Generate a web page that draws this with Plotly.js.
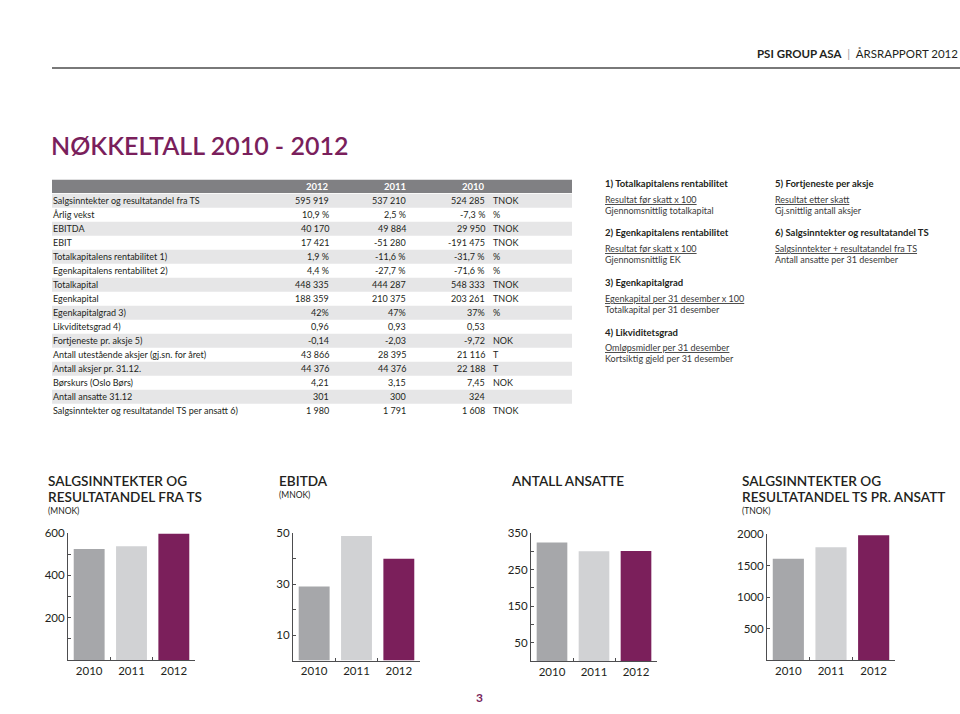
<!DOCTYPE html>
<html><head><meta charset="utf-8">
<script src="https://cdn.plot.ly/plotly-3.0.1.min.js"></script>
<style>html,body{margin:0;padding:0;background:#fff;}#chart{width:960px;height:714px;}</style>
</head><body><div id="chart"></div>
<script>
// ---------- DATA ----------
const years = ['2010', '2011', '2012'];
const salesMNOK = [525, 537.5, 596];
const ebitdaMNOK = [29.0, 48.8, 39.9];
const employees = [324, 300, 301];
const salesPerEmployeeTNOK = [1608, 1791, 1980];

// y-axis ticks (value, label; empty label = unlabeled minor tick)
const tickVals1 = [100, 200, 300, 400, 500, 600];
const tickText1 = ['', '200', '', '400', '', '600'];
const tickVals2 = [10, 20, 30, 40, 50];
const tickText2 = ['10', '', '30', '', '50'];
const tickVals3 = [50, 100, 150, 200, 250, 300, 350];
const tickText3 = ['50', '', '150', '', '250', '', '350'];
const tickVals4 = [500, 1000, 1500, 2000];
const tickText4 = ['500', '1000', '1500', '2000'];

const tableYears = ['2012', '2011', '2010'];
const rowLabels = [
  'Salgsinntekter og resultatandel fra TS', 'Årlig vekst', 'EBITDA', 'EBIT',
  'Totalkapitalens rentabilitet 1)', 'Egenkapitalens rentabilitet 2)', 'Totalkapital', 'Egenkapital',
  'Egenkapitalgrad 3)', 'Likviditetsgrad 4)', 'Fortjeneste pr. aksje 5)',
  'Antall utestående aksjer (gj.sn. for året)', 'Antall aksjer pr. 31.12.', 'Børskurs (Oslo Børs)',
  'Antall ansatte 31.12', 'Salgsinntekter og resultatandel TS per ansatt 6)'
];
const val2012 = ['595 919', '10,9 %', '40 170', '17 421', '1,9 %', '4,4 %', '448 335', '188 359', '42%', '0,96', '-0,14', '43 866', '44 376', '4,21', '301', '1 980'];
const val2011 = ['537 210', '2,5 %', '49 884', '-51 280', '-11,6 %', '-27,7 %', '444 287', '210 375', '47%', '0,93', '-2,03', '28 395', '44 376', '3,15', '300', '1 791'];
const val2010 = ['524 285', '-7,3 %', '29 950', '-191 475', '-31,7 %', '-71,6 %', '548 333', '203 261', '37%', '0,53', '-9,72', '21 116', '22 188', '7,45', '324', '1 608'];
const units = ['TNOK', '%', 'TNOK', 'TNOK', '%', '%', 'TNOK', 'TNOK', '%', '', 'NOK', 'T', 'T', 'NOK', '', 'TNOK'];

const noteTitles = ['1) Totalkapitalens rentabilitet', '2) Egenkapitalens rentabilitet', '3) Egenkapitalgrad', '4) Likviditetsgrad', '5) Fortjeneste per aksje', '6) Salgsinntekter og resultatandel TS'];
const noteNumerators = ['Resultat før skatt x 100', 'Resultat før skatt x 100', 'Egenkapital per 31 desember x 100', 'Omløpsmidler per 31 desember', 'Resultat etter skatt', 'Salgsinntekter + resultatandel fra TS'];
const noteDenominators = ['Gjennomsnittlig totalkapital', 'Gjennomsnittlig EK', 'Totalkapital per 31 desember', 'Kortsiktig gjeld per 31 desember', 'Gj.snittlig antall aksjer', 'Antall ansatte per 31 desember'];

const chartTitles = [['SALGSINNTEKTER OG', 'RESULTATANDEL FRA TS'], ['EBITDA'], ['ANTALL ANSATTE'], ['SALGSINNTEKTER OG', 'RESULTATANDEL TS PR. ANSATT']];
const chartUnits = ['(MNOK)', '(MNOK)', '', '(TNOK)'];

const pageTitle = 'NØKKELTALL 2010 - 2012';
const headerCompany = 'PSI GROUP ASA';
const headerReport = 'ÅRSRAPPORT 2012';
const pageNumber = '3';

// ---------- STYLE ----------
const W = 960, H = 714;
const FONT = 'Lato, "Open Sans", sans-serif';
const PURPLE = '#7a1f5c';
const TXT = '#231f20';
const AXIS = '#4d4d4f';
const barColors = ['#a6a7aa', '#d1d2d4', '#7b1f5b'];
const px = x => x / W;
const py = y => 1 - y / H;

const annotations = [];
const shapes = [];
function ann(text, x, y, opts) {
  annotations.push(Object.assign({
    text: text, x: px(x), y: py(y), xref: 'paper', yref: 'paper',
    showarrow: false, xanchor: 'left', yanchor: 'middle', borderpad: 0,
    font: {family: FONT, size: 9, color: TXT}
  }, opts || {}));
}

// header
ann('<b>' + headerCompany + '</b>\u00a0\u00a0<span style="color:#a0a0a0">|</span>\u00a0\u00a0' + headerReport, 959, 54,
  {xanchor: 'right', font: {family: FONT, size: 11.5, color: TXT}});
shapes.push({type: 'line', xref: 'paper', yref: 'paper', x0: px(52), x1: px(960), y0: py(68), y1: py(68), line: {color: '#4d4d4d', width: 1.6}});

// page title
ann(pageTitle, 50, 145, {font: {family: FONT, size: 25, color: PURPLE, weight: 600}});

// table
const rowTop0 = 193.7, rowH = 14;
shapes.push({type: 'rect', xref: 'paper', yref: 'paper', layer: 'below', x0: px(52), x1: px(572), y0: py(rowTop0 - rowH), y1: py(rowTop0 - 0.8), fillcolor: '#808083', line: {width: 0}});
const colRight = [330, 407, 486];
tableYears.forEach((yr, i) => ann('<b>' + yr + '</b>', colRight[i], rowTop0 - rowH / 2, {xanchor: 'right', font: {family: FONT, size: 9.5, color: '#ffffff'}}));
rowLabels.forEach((lab, k) => {
  const top = rowTop0 + k * rowH;
  if (k % 2 === 0) {
    shapes.push({type: 'rect', xref: 'paper', yref: 'paper', layer: 'below', x0: px(52), x1: px(572), y0: py(top + rowH), y1: py(top), fillcolor: '#e6e6e7', line: {width: 0}});
  }
  const cy = top + rowH / 2;
  ann(lab, 52, cy);
  ann(val2012[k], colRight[0], cy, {xanchor: 'right'});
  ann(val2011[k], colRight[1], cy, {xanchor: 'right'});
  ann(val2010[k], colRight[2], cy, {xanchor: 'right'});
  if (units[k]) ann(units[k], 492, cy);
});

// notes
const noteX = [604, 604, 604, 604, 774, 774];
const noteY = [184, 233, 283, 332, 184, 233];
noteTitles.forEach((t, i) => {
  ann('<b>' + t + '</b>', noteX[i], noteY[i], {font: {family: FONT, size: 9.5, color: TXT}});
  ann('<u>' + noteNumerators[i] + '</u>', noteX[i], noteY[i] + 15, {font: {family: FONT, size: 9, color: '#3a3a3a'}});
  ann(noteDenominators[i], noteX[i], noteY[i] + 26.5, {font: {family: FONT, size: 9, color: '#3a3a3a'}});
});

// chart titles
const titleX = [47, 278, 510, 741];
chartTitles.forEach((lines, i) => {
  lines.forEach((ln, j) => ann(ln, titleX[i], 480.5 + j * 16.5, {font: {family: FONT, size: 13.6, color: TXT, weight: 600}}));
  if (chartUnits[i]) ann(chartUnits[i], titleX[i], lines.length > 1 ? 511 : 494.5, {font: {family: FONT, size: 8.5, color: TXT}});
});

// page number
ann('<b>' + pageNumber + '</b>', 479, 697, {xanchor: 'center', font: {family: FONT, size: 12, color: PURPLE}});

// ---------- CHARTS ----------
const series = [salesMNOK, ebitdaMNOK, employees, salesPerEmployeeTNOK];
const tickVals = [tickVals1, tickVals2, tickVals3, tickVals4];
const tickText = [tickText1, tickText2, tickText3, tickText4];
const xDom = [[68, 195], [293, 420], [531, 657], [767, 895]];
const yDom = [[533, 660], [533, 660.5], [533, 661], [534, 660]];
const yRange = [[0, 600], [0, 50], [0, 350], [0, 2000]];

const traces = [];
const layout = {
  width: W, height: H, margin: {l: 0, r: 0, t: 0, b: 0},
  paper_bgcolor: '#ffffff', plot_bgcolor: 'rgba(0,0,0,0)',
  showlegend: false, bargap: 0.27,
  font: {family: FONT, color: TXT},
  annotations: annotations, shapes: shapes
};
series.forEach((vals, i) => {
  const n = i === 0 ? '' : String(i + 1);
  traces.push({type: 'bar', x: years, y: vals, xaxis: 'x' + n, yaxis: 'y' + n,
    marker: {color: barColors, line: {width: 0}}, hoverinfo: 'skip'});
  layout['xaxis' + n] = {
    domain: [px(xDom[i][0]), px(xDom[i][1])], anchor: 'y' + n, type: 'category',
    showline: true, linecolor: AXIS, linewidth: 1, ticks: 'inside', tickson: 'boundaries',
    ticklen: 3, tickcolor: AXIS, showgrid: false, zeroline: false, fixedrange: true,
    tickfont: {family: FONT, size: 11.5, color: TXT}
  };
  layout['yaxis' + n] = {
    domain: [1 - yDom[i][1] / H, 1 - yDom[i][0] / H], anchor: 'x' + n, range: yRange[i],
    tickmode: 'array', tickvals: tickVals[i], ticktext: tickText[i],
    showline: true, linecolor: AXIS, linewidth: 1,
    ticks: 'inside', ticklen: 3, tickcolor: AXIS, showgrid: false, zeroline: false, fixedrange: true,
    tickfont: {family: FONT, size: 11.5, color: TXT}
  };
});

Plotly.newPlot('chart', traces, layout, {staticPlot: true, displayModeBar: false});
</script>
</body></html>
